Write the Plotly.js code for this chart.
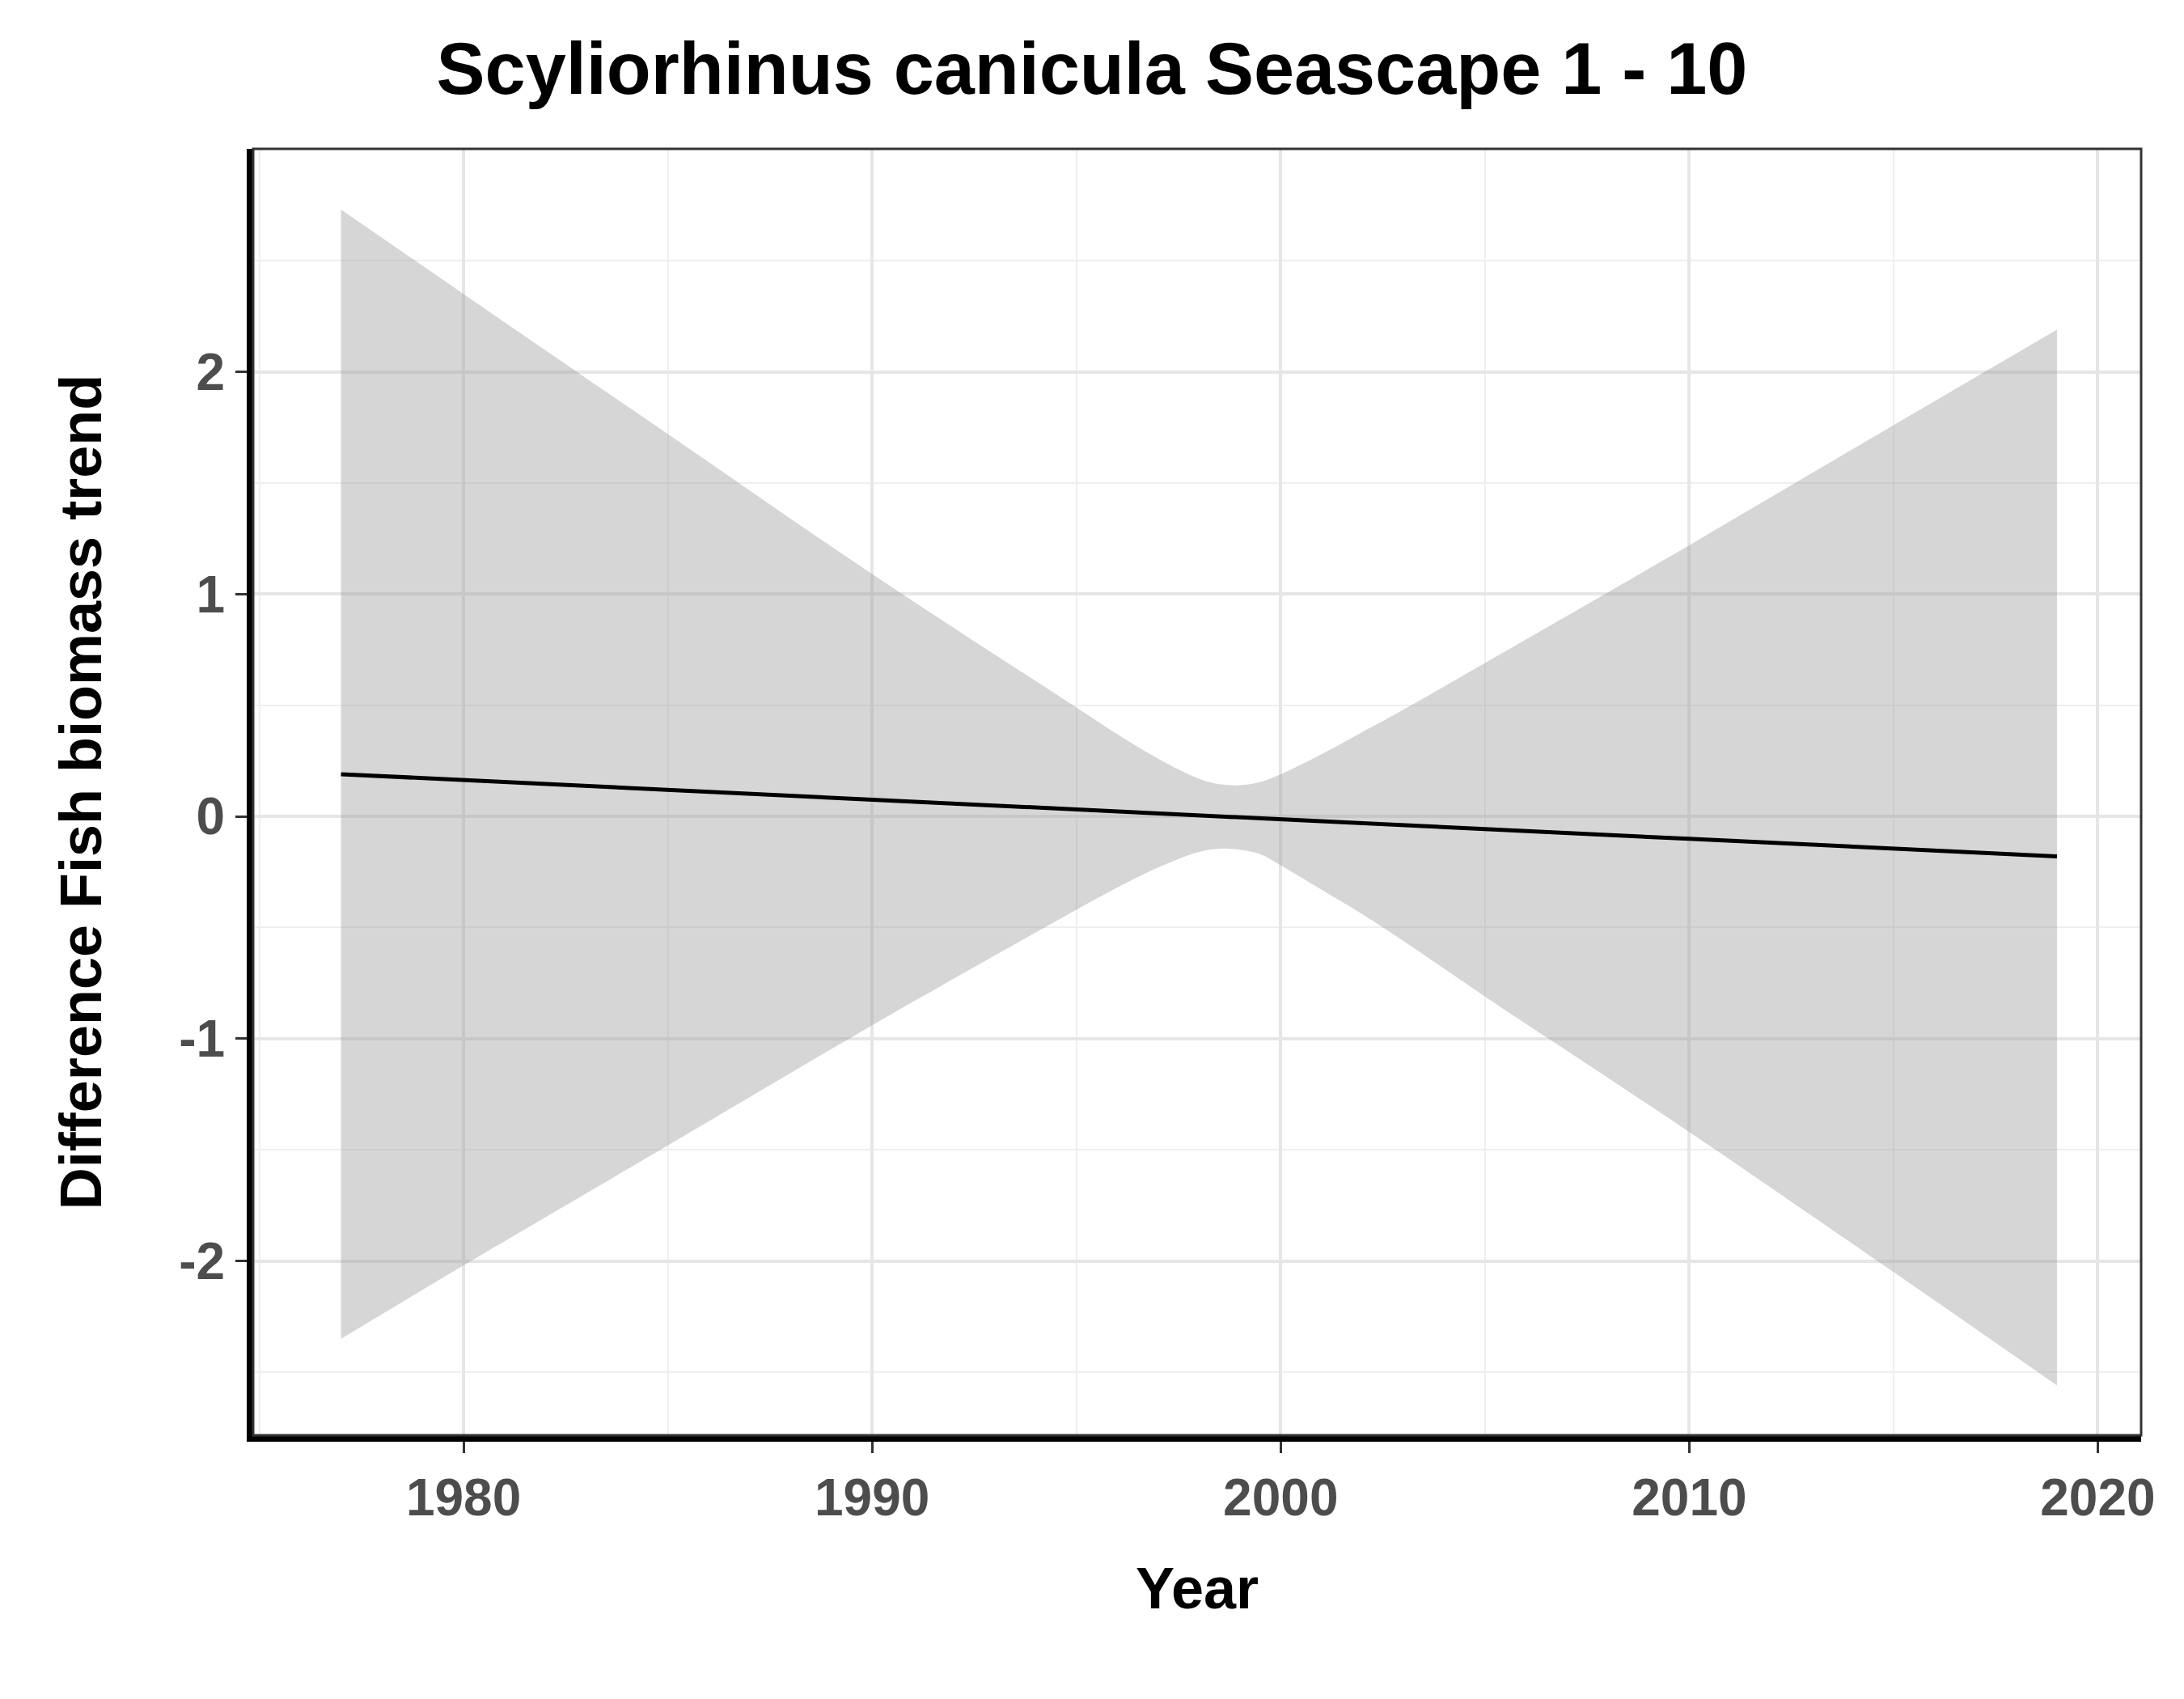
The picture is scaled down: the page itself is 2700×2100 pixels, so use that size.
<!DOCTYPE html>
<html>
<head>
<meta charset="utf-8">
<script src="https://cdn.plot.ly/plotly-3.0.1.min.js"></script>
<style>body{margin:0;background:#fff}</style>
</head>
<body>
<div id="plot" style="width:2700px;height:2100px"></div>
<script>
// values
const years = [1977, 1980, 1985, 1990, 1995, 1996, 1997, 1998, 1998.5, 1999, 1999.5, 2000, 2001, 2002, 2003, 2005, 2010, 2015, 2019]
const trend = [0.19, 0.164, 0.12, 0.076, 0.032, 0.023, 0.014, 0.005, 0.0, -0.004, -0.008, -0.013, -0.022, -0.03, -0.039, -0.057, -0.101, -0.145, -0.18]
const upper = [2.73, 2.35, 1.72, 1.09, 0.49, 0.37, 0.26, 0.17, 0.145, 0.14, 0.155, 0.19, 0.28, 0.38, 0.48, 0.69, 1.22, 1.76, 2.19]
const lower = [-2.35, -2.02, -1.48, -0.94, -0.42, -0.32, -0.23, -0.16, -0.145, -0.15, -0.17, -0.22, -0.33, -0.44, -0.56, -0.81, -1.42, -2.05, -2.56]
const xTicks = [1980, 1990, 2000, 2010, 2020]
const yTicks = [-2, -1, 0, 1, 2]
const yLabels = ['-2', '-1', '0', '1', '2']

const data = [
  { x: years, y: lower, mode: 'lines', line: { width: 0, shape: 'spline' }, hoverinfo: 'skip', showlegend: false },
  { x: years, y: upper, mode: 'lines', line: { width: 0, shape: 'spline' }, fill: 'tonexty',
    fillcolor: 'rgba(153,153,153,0.4)', hoverinfo: 'skip', showlegend: false },
  { x: years, y: trend, mode: 'lines', line: { color: '#000', width: 5 }, showlegend: false }
]

const tickfont = { family: 'Liberation Sans, Arial', size: 64, color: '#4d4d4d', weight: 'bold' }
const layout = {
  width: 2700, height: 2100,
  margin: { l: 313, r: 53, t: 184, b: 326 },
  paper_bgcolor: '#fff', plot_bgcolor: '#fff',
  font: { family: 'Liberation Sans, Arial' },
  title: { text: '<b>Scyliorhinus canicula Seascape 1 - 10</b>', x: 0.5, xanchor: 'center',
    y: 0.96, yanchor: 'middle', font: { size: 90, color: '#000' } },
  xaxis: {
    range: [1974.85, 2021.06], tickvals: xTicks,
    showgrid: true, gridcolor: '#e6e6e6', gridwidth: 4,
    minor: { tickvals: [1975, 1985, 1995, 2005, 2015], showgrid: true, gridcolor: '#efefef', gridwidth: 2, ticks: '' },
    showline: true, linecolor: '#000', linewidth: 8,
    ticks: 'outside', ticklen: 14, tickwidth: 3, tickcolor: '#333',
    tickfont: tickfont, zeroline: false,
    title: { text: '<b>Year</b>', standoff: 55, font: { size: 72, color: '#000' } }
  },
  yaxis: {
    range: [-2.784, 3.003], tickvals: yTicks, ticktext: yLabels,
    showgrid: true, gridcolor: '#e6e6e6', gridwidth: 4,
    minor: { tickvals: [-2.5, -1.5, -0.5, 0.5, 1.5, 2.5], showgrid: true, gridcolor: '#efefef', gridwidth: 2, ticks: '' },
    showline: true, linecolor: '#000', linewidth: 8,
    ticks: 'outside', ticklen: 14, tickwidth: 3, tickcolor: '#333',
    tickfont: tickfont, zeroline: false,
    title: { text: '<b>Difference Fish biomass trend</b>', standoff: 75, font: { size: 72, color: '#000' } }
  },
  shapes: [{ type: 'rect', xref: 'paper', yref: 'paper', x0: 0, x1: 1, y0: 0, y1: 1,
    line: { color: '#333', width: 3 }, layer: 'above' }]
}

Plotly.newPlot('plot', data, layout, { staticPlot: true })
</script>
</body>
</html>
